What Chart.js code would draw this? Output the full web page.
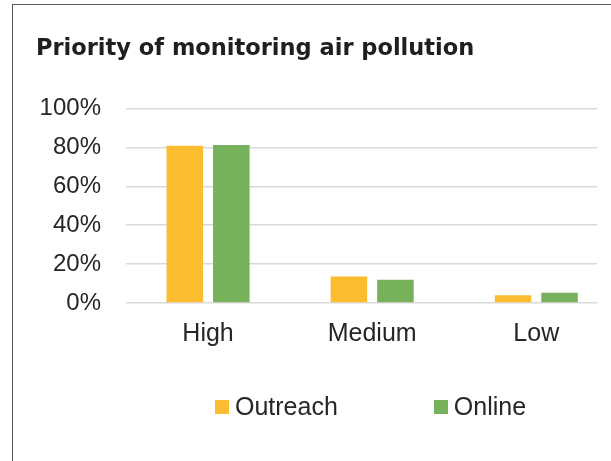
<!DOCTYPE html>
<html>
<head>
<meta charset="utf-8">
<script src="https://cdn.jsdelivr.net/npm/chart.js@4.4.0/dist/chart.umd.min.js"></script>
<style>
  body { margin: 0; background: #fff; overflow: hidden; }
  #frame { position: absolute; left: 12px; top: 4px; width: 700px; height: 600px; border: 1px solid #5a5a5a; }
  #chart { position: absolute; left: 0; top: 0; }
  #legend { position: absolute; left: 215px; top: 394px; display: flex; gap: 96px; }
  .item { display: flex; align-items: center; height: 25px; font: 25px "Liberation Sans", Arial, sans-serif; color: #262626; line-height: 25px; }
  .swatch { width: 14px; height: 14px; margin-right: 6px; }
</style>
</head>
<body>
<div id="frame"></div>
<canvas id="chart" width="611" height="461"></canvas>
<div id="legend"></div>
<script>
var chartTitle = 'Priority of monitoring air pollution';
var categories = ['High', 'Medium', 'Low'];
var seriesNames = ['Outreach', 'Online'];
var outreachValues = [80.8, 13.6, 4.0];
var onlineValues = [81.2, 12.0, 5.3];
var seriesColors = ['#FBBC2F', '#75B25B'];

var tickFont = { family: '"Liberation Sans", Arial, sans-serif', size: 24 };

var ctx = document.getElementById('chart').getContext('2d');

var priorityChart = new Chart(ctx, {
    type: 'bar',
    data: {
        labels: categories,
        datasets: [{
            label: seriesNames[0],
            data: outreachValues,
            backgroundColor: seriesColors[0]
        }, {
            label: seriesNames[1],
            data: onlineValues,
            backgroundColor: seriesColors[1]
        }]
    },
    options: {
        responsive: false,
        animation: false,
        devicePixelRatio: 1,
        layout: {
            padding: { left: 36, right: 14, top: 0, bottom: 104 }
        },
        datasets: {
            bar: {
                categoryPercentage: 0.567,
                barPercentage: 0.785
            }
        },
        plugins: {
            legend: { display: false },
            tooltip: { enabled: false },
            title: {
                display: true,
                text: chartTitle,
                align: 'start',
                color: '#1f1f1f',
                font: { family: '"DejaVu Sans", sans-serif', size: 22.5, weight: 'bold', lineHeight: 1 },
                padding: { top: 38, bottom: 48 }
            }
        },
        scales: {
            x: {
                grid: { display: false },
                border: { display: false },
                ticks: {
                    color: '#262626',
                    font: { family: tickFont.family, size: 25 },
                    padding: 8
                },
                // the original spaces its categories a bit wider than the gridlines run
                afterBuildTicks: function(scale) {
                    scale._valueRange = 2.87;
                }
            },
            y: {
                min: 0,
                max: 100,
                grid: { color: '#d9d9d9', lineWidth: 1.5, drawTicks: false },
                border: { display: false },
                ticks: {
                    stepSize: 20,
                    color: '#262626',
                    font: tickFont,
                    padding: 25,
                    callback: function(value) { return value + '%'; }
                },
                afterFit: function(scale) {
                    scale.width = 90;
                }
            }
        }
    }
});

// legend built from the chart's own datasets
var legendBox = document.getElementById('legend');
priorityChart.data.datasets.forEach(function(ds) {
    var item = document.createElement('div');
    item.className = 'item';
    var swatch = document.createElement('span');
    swatch.className = 'swatch';
    swatch.style.background = ds.backgroundColor;
    var text = document.createElement('span');
    text.textContent = ds.label;
    item.appendChild(swatch);
    item.appendChild(text);
    legendBox.appendChild(item);
});
</script>
</body>
</html>
